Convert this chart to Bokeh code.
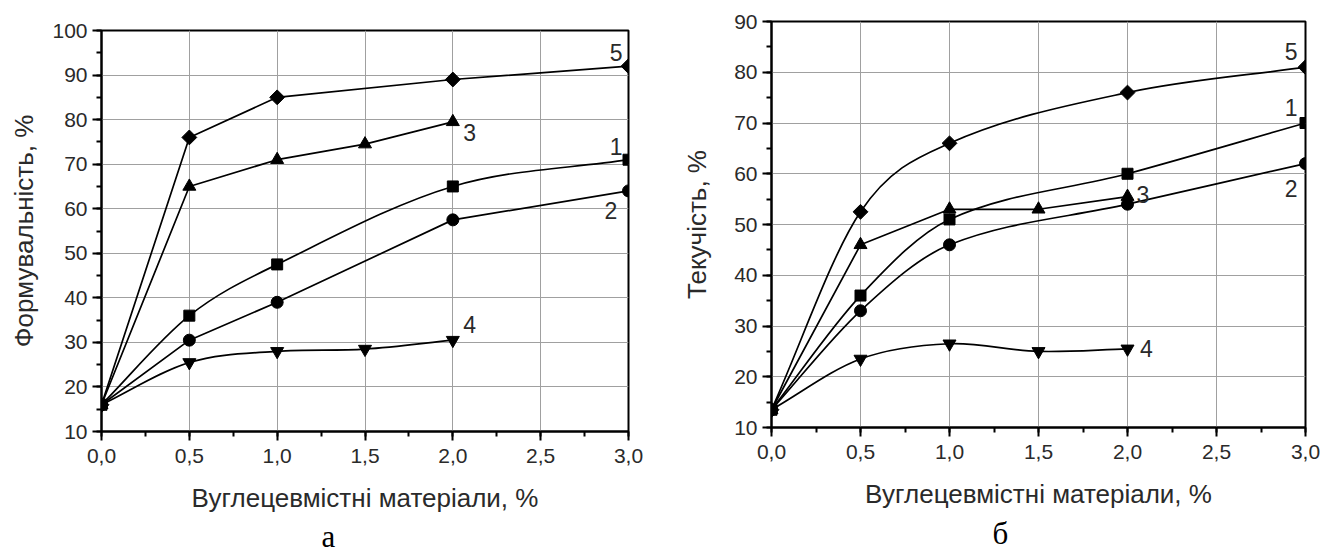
import numpy as np
from bokeh.plotting import figure
from bokeh.layouts import row
from bokeh.models import Range1d, FixedTicker, Title, CustomJSTickFormatter
from bokeh.core.properties import value
from bokeh.embed import file_html
from bokeh.resources import INLINE

# ---- data ----
x_full = [0.0, 0.5, 1.0, 2.0, 3.0]
x_part = [0.0, 0.5, 1.0, 1.5, 2.0]

# panel a: Формувальність
a_s1 = [16, 36, 47.5, 65, 71]
a_s2 = [16, 30.5, 39, 57.5, 64]
a_s3 = [16, 65, 71, 74.5, 79.5]
a_s4 = [16, 25.5, 28, 28.5, 30.5]
a_s5 = [16, 76, 85, 89, 92]

# panel б: Текучість
b_s1 = [13.5, 36, 51, 60, 70]
b_s2 = [13.5, 33, 46, 54, 62]
b_s3 = [13.5, 46, 53, 53, 55.5]
b_s4 = [13.5, 23.5, 26.5, 25, 25.5]
b_s5 = [13.5, 52.5, 66, 76, 81]

x_ticks = [0.0, 0.5, 1.0, 1.5, 2.0, 2.5, 3.0]
x_label = "Вуглецевмістні матеріали, %"

FONT = "Liberation Sans"
TXT = "#2a2a2a"
H = 556


def smooth_line(p, xs, ys):
    """Cubic Hermite curve through the points, drawn with Bokeh's bezier glyph."""
    xs = [float(v) for v in xs]; ys = [float(v) for v in ys]
    n = len(xs)
    d = [(ys[i + 1] - ys[i]) / (xs[i + 1] - xs[i]) for i in range(n - 1)]
    m = [d[0]] + [(ys[i + 1] - ys[i - 1]) / (xs[i + 1] - xs[i - 1]) for i in range(1, n - 1)] + [d[-1]]
    x0, y0, x1, y1, cx0, cy0, cx1, cy1 = [], [], [], [], [], [], [], []
    for i in range(n - 1):
        h = xs[i + 1] - xs[i]
        x0.append(xs[i]); y0.append(ys[i])
        x1.append(xs[i + 1]); y1.append(ys[i + 1])
        cx0.append(xs[i] + h / 3.0); cy0.append(ys[i] + m[i] * h / 3.0)
        cx1.append(xs[i + 1] - h / 3.0); cy1.append(ys[i + 1] - m[i + 1] * h / 3.0)
    p.bezier(x0=x0, y0=y0, x1=x1, y1=y1, cx0=cx0, cy0=cy0, cx1=cx1, cy1=cy1,
             line_color="black", line_width=1.7)


def straight_line(p, xs, ys):
    p.line(xs, ys, line_color="black", line_width=1.7)


def markers(p, xs, ys, kind):
    kw = dict(fill_color="black", line_color="black")
    if kind == "diamond":
        p.scatter(xs, ys, marker="square", angle=np.pi / 4, size=10.5, **kw)
    elif kind == "square":
        p.scatter(xs, ys, marker="square", size=11, **kw)
    elif kind == "circle":
        p.scatter(xs, ys, marker="circle", size=12, **kw)
    elif kind == "triangle":
        p.scatter(xs, ys, marker="triangle", size=13, **kw)
    elif kind == "inverted_triangle":
        p.scatter(xs, ys, marker="inverted_triangle", size=13, **kw)


def make_fig(width, ymax, ylabel, border_left, border_right, border_top, border_bottom,
             ylabel_standoff, letter, letter_offset, letter_standoff):
    p = figure(width=width, height=H, output_backend="svg", toolbar_location=None,
               x_range=Range1d(0, 3), y_range=Range1d(10, ymax),
               min_border_left=border_left, min_border_right=border_right,
               min_border_top=border_top, min_border_bottom=border_bottom,
               background_fill_color="white", border_fill_color="white")
    p.frame_align = False
    p.outline_line_color = "black"
    p.outline_line_width = 2
    p.xaxis.ticker = FixedTicker(ticks=x_ticks, minor_ticks=[i * 0.25 for i in range(13)])
    p.yaxis.ticker = FixedTicker(ticks=list(range(10, ymax + 1, 10)),
                                 minor_ticks=list(range(10, ymax + 1, 5)))
    p.xaxis.formatter = CustomJSTickFormatter(code="return tick.toFixed(1).replace('.', ',');")
    for ax in (p.xaxis[0], p.yaxis[0]):
        ax.axis_line_width = 2
        ax.axis_line_color = "black"
        ax.major_tick_line_width = 2
        ax.major_tick_line_color = "black"
        ax.minor_tick_line_width = 2
        ax.minor_tick_line_color = "black"
        ax.major_tick_out = 9
        ax.major_tick_in = 0
        ax.minor_tick_out = 5
        ax.minor_tick_in = 0
        ax.major_label_text_font = FONT
        ax.major_label_text_font_size = "21px"
        ax.major_label_text_color = TXT
        ax.axis_label_text_font = FONT
        ax.axis_label_text_font_size = "26px"
        ax.axis_label_text_font_style = "normal"
        ax.axis_label_text_color = TXT
    p.xaxis.axis_label = x_label
    p.yaxis.axis_label = ylabel
    p.xaxis.major_label_standoff = 8
    p.yaxis.major_label_standoff = 5
    p.xaxis.axis_label_standoff = 17
    p.yaxis.axis_label_standoff = ylabel_standoff
    p.xgrid.grid_line_color = "#a0a0a0"
    p.ygrid.grid_line_color = "#a0a0a0"
    p.xgrid.grid_line_width = 1
    p.ygrid.grid_line_width = 1
    t = Title(text=letter, align="left", offset=letter_offset, text_font="Liberation Serif",
              text_font_size="31px", text_font_style="normal", text_color="black",
              standoff=letter_standoff)
    p.add_layout(t, "below")
    return p


def labels(p, xs, ys, texts, aligns):
    p.text(xs, ys, text=texts, text_font=value(FONT), text_font_size="23px",
           text_align=aligns, text_baseline="middle", text_color=TXT)


# ---- panel a ----  (frame: x 101..628, y 30..431)
pa = make_fig(650, 100, "Формувальність, %", 101, 22, 30, H - 431, 10, "а", 220, 2)
straight_line(pa, x_full, a_s5)
straight_line(pa, x_part, a_s3)
smooth_line(pa, x_full, a_s1)
straight_line(pa, x_full, a_s2)
smooth_line(pa, x_part, a_s4)
markers(pa, x_full, a_s5, "diamond")
markers(pa, x_part, a_s3, "triangle")
markers(pa, x_full, a_s1, "square")
markers(pa, x_full, a_s2, "circle")
markers(pa, x_part, a_s4, "inverted_triangle")
labels(pa, [2.93, 2.06, 2.93, 2.9, 2.06], [95.0, 77.0, 74.0, 59.5, 34.0],
       ["5", "3", "1", "2", "4"], ["center", "left", "center", "center", "left"])

# ---- panel б ----  (frame: x 771..1305, y 21..427)
pb = make_fig(674, 90, "Текучість, %", 121, 19, 21, H - 427, 19, "б", 221, 5)
smooth_line(pb, x_full, b_s5)
smooth_line(pb, x_full, b_s1)
smooth_line(pb, x_full, b_s2)
straight_line(pb, x_part, b_s3)
smooth_line(pb, x_part, b_s4)
markers(pb, x_full, b_s5, "diamond")
markers(pb, x_full, b_s1, "square")
markers(pb, x_full, b_s2, "circle")
markers(pb, x_part, b_s3, "triangle")
markers(pb, x_part, b_s4, "inverted_triangle")
labels(pb, [2.92, 2.92, 2.05, 2.92, 2.07], [84.0, 73.0, 56.0, 57.0, 25.5],
       ["5", "1", "3", "2", "4"], ["center", "center", "left", "center", "left"])

layout = row(pa, pb)
open("out.html", "w").write(file_html(layout, INLINE))
